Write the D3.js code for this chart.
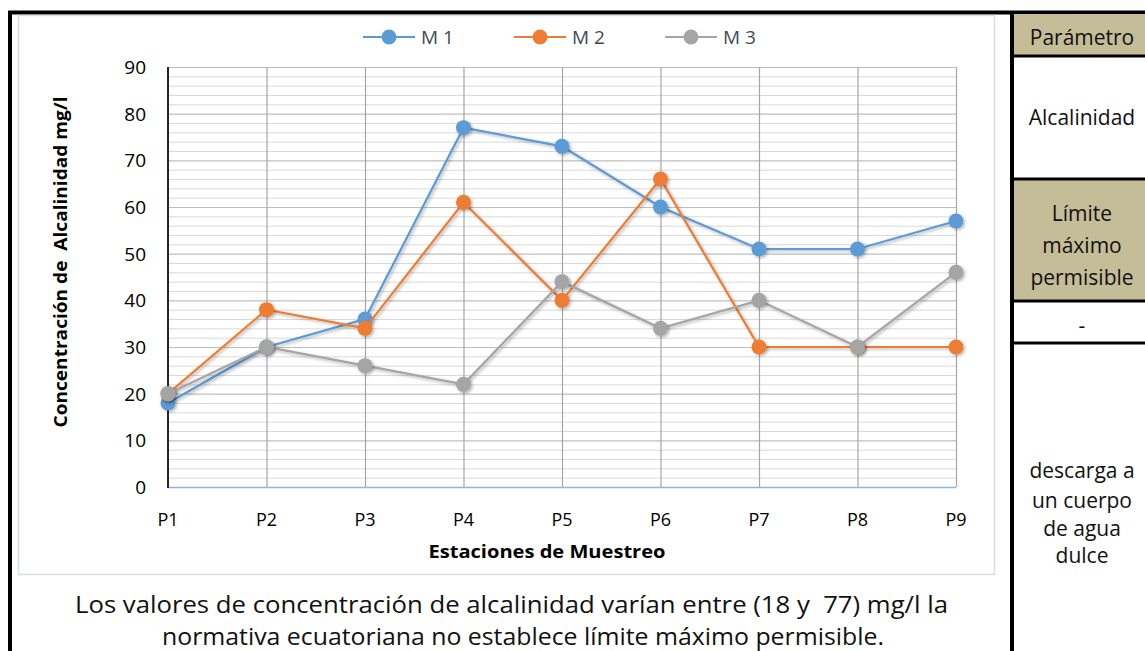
<!DOCTYPE html>
<html>
<head>
<meta charset="utf-8">
<script src="https://cdn.jsdelivr.net/npm/d3@7"></script>
<style>
  body { margin: 0; background: #fff; }
  svg { display: block; font-family: "Open Sans", Lato, sans-serif; }
</style>
</head>
<body>
<div id="chart"></div>
<script>
// Données
const estaciones = ["P1", "P2", "P3", "P4", "P5", "P6", "P7", "P8", "P9"];
const m1 = [18, 30, 36, 77, 73, 60, 51, 51, 57];
const m2 = [20, 38, 34, 61, 40, 66, 30, 30, 30];
const m3 = [20, 30, 26, 22, 44, 34, 40, 30, 46];
const nombresSeries = ["M 1", "M 2", "M 3"];
const yTicks = [0, 10, 20, 30, 40, 50, 60, 70, 80, 90];
const filasTabla = [
  { lineas: ["Parámetro"], tan: true },
  { lineas: ["Alcalinidad"], tan: false },
  { lineas: ["Límite", "máximo", "permisible"], tan: true },
  { lineas: ["-"], tan: false },
  { lineas: ["descarga a", "un cuerpo", "de agua", "dulce"], tan: false }
];
const textoPie = [
  "Los valores de concentración de alcalinidad varían entre (18 y  77) mg/l la",
  "normativa ecuatoriana no establece límite máximo permisible."
];

const series = [m1, m2, m3];
const colores = ["#5b9bd5", "#ed7d31", "#a5a5a5"];

const width = 1145, height = 651;
const svg = d3.select("#chart").append("svg")
  .attr("width", width)
  .attr("height", height);

// Ombre des marqueurs
const defs = svg.append("defs");
const f = defs.append("filter").attr("id", "ombre")
  .attr("x", "-50%").attr("y", "-50%").attr("width", "200%").attr("height", "200%");
f.append("feDropShadow").attr("dx", 1.5).attr("dy", 1.5).attr("stdDeviation", 1.5)
  .attr("flood-color", "#000").attr("flood-opacity", 0.3);

// Cadre noir extérieur
svg.append("rect").attr("x", 10).attr("y", 12.5).attr("width", 1200).attr("height", 700)
  .attr("fill", "none").attr("stroke", "#000").attr("stroke-width", 4);

// Cadre du graphique
svg.append("rect").attr("x", 18.5).attr("y", 15.5).attr("width", 976).attr("height", 559)
  .attr("fill", "#fff").attr("stroke", "#d9dee6").attr("stroke-width", 1.5);

// Échelles
const x = d3.scalePoint().domain(estaciones).range([168, 956]);
const y = d3.scaleLinear().domain([0, 90]).range([487, 67]);

const plot = svg.append("g");

// Quadrillage secondaire
plot.append("g")
  .selectAll("line")
  .data(d3.range(0, 91, 2).filter(v => v % 10 !== 0))
  .enter().append("line")
  .attr("x1", 168).attr("x2", 956)
  .attr("y1", d => y(d) + 0.5).attr("y2", d => y(d) + 0.5)
  .attr("stroke", "#d9d9d9").attr("stroke-width", 1);

// Quadrillage principal
plot.append("g")
  .selectAll("line")
  .data(yTicks.slice(1))
  .enter().append("line")
  .attr("x1", 168).attr("x2", 956)
  .attr("y1", d => y(d) + 0.5).attr("y2", d => y(d) + 0.5)
  .attr("stroke", "#bfbfbf").attr("stroke-width", 1.2);

// Lignes verticales
plot.append("g")
  .selectAll("line")
  .data(estaciones.slice(1))
  .enter().append("line")
  .attr("x1", d => x(d) + 0.5).attr("x2", d => x(d) + 0.5)
  .attr("y1", y(90)).attr("y2", y(0))
  .attr("stroke", "#a6a6a6").attr("stroke-width", 1.2);

// Axes
plot.append("line").attr("x1", 168).attr("x2", 956).attr("y1", y(0) + 0.5).attr("y2", y(0) + 0.5)
  .attr("stroke", "#8eb4e3").attr("stroke-width", 1.5);
plot.append("line").attr("x1", 168).attr("x2", 168).attr("y1", y(90)).attr("y2", y(0) + 1)
  .attr("stroke", "#262626").attr("stroke-width", 2);

// Étiquettes des axes
svg.append("g").selectAll("text")
  .data(yTicks).enter().append("text")
  .attr("x", 146).attr("y", d => y(d) + 7)
  .attr("text-anchor", "end")
  .attr("font-size", 19).attr("fill", "#000")
  .text(d => d);

svg.append("g").selectAll("text")
  .data(estaciones).enter().append("text")
  .attr("x", d => x(d)).attr("y", 526)
  .attr("text-anchor", "middle")
  .attr("font-size", 18).attr("fill", "#000")
  .text(d => d);

svg.append("text")
  .attr("x", 547).attr("y", 558)
  .attr("text-anchor", "middle")
  .attr("font-size", 18).attr("font-weight", "bold")
  .attr("textLength", 237).attr("lengthAdjust", "spacingAndGlyphs")
  .text("Estaciones de Muestreo");

svg.append("text")
  .attr("transform", "translate(67,262) rotate(-90)")
  .attr("text-anchor", "middle")
  .attr("font-size", 18).attr("font-weight", "bold")
  .attr("textLength", 331).attr("lengthAdjust", "spacingAndGlyphs")
  .style("white-space", "pre")
  .text("Concentración de  Alcalinidad mg/l");

// Séries
const line = d3.line().x((d, i) => x(estaciones[i])).y(d => y(d));
series.forEach((s, k) => {
  const g = svg.append("g");
  g.append("path").datum(s)
    .attr("d", line)
    .attr("fill", "none")
    .attr("stroke", colores[k])
    .attr("stroke-width", 2.2)
    .attr("filter", "url(#ombre)");
  g.selectAll("circle").data(s).enter().append("circle")
    .attr("cx", (d, i) => x(estaciones[i]))
    .attr("cy", d => y(d))
    .attr("r", 7.5)
    .attr("fill", colores[k])
    .attr("filter", "url(#ombre)");
});

// Légende
const legX = [363, 514, 665];
const leg = svg.append("g");
nombresSeries.forEach((n, k) => {
  leg.append("line").attr("x1", legX[k]).attr("x2", legX[k] + 52)
    .attr("y1", 37).attr("y2", 37)
    .attr("stroke", colores[k]).attr("stroke-width", 1.8);
  leg.append("circle").attr("cx", legX[k] + 26).attr("cy", 37).attr("r", 7.5)
    .attr("fill", colores[k]);
  leg.append("text").attr("x", legX[k] + 58).attr("y", 44)
    .attr("font-size", 19).attr("fill", "#404a5a")
    .text(n);
});

// Texte sous le graphique
svg.append("text")
  .attr("x", 75).attr("y", 613)
  .attr("font-size", 23).attr("fill", "#111")
  .attr("textLength", 873).attr("lengthAdjust", "spacingAndGlyphs")
  .style("white-space", "pre")
  .text(textoPie[0]);
svg.append("text")
  .attr("x", 162).attr("y", 645)
  .attr("font-size", 23).attr("fill", "#111")
  .attr("textLength", 722).attr("lengthAdjust", "spacingAndGlyphs")
  .text(textoPie[1]);

// Tableau à droite
const bornes = [14, 56, 179, 301, 343, 700];
const tabX = 1012, tabW = 200, centreCol = 1082;
const tab = svg.append("g");
filasTabla.forEach((r, i) => {
  const y0 = bornes[i], y1 = bornes[i + 1];
  tab.append("rect").attr("x", tabX).attr("y", y0).attr("width", tabW).attr("height", y1 - y0)
    .attr("fill", r.tan ? "#c4bd97" : "#fff");
});
bornes.slice(1, 5).forEach(b => {
  tab.append("line").attr("x1", tabX).attr("x2", tabX + tabW)
    .attr("y1", b).attr("y2", b).attr("stroke", "#000").attr("stroke-width", 3);
});
tab.append("line").attr("x1", tabX).attr("x2", tabX).attr("y1", 12).attr("y2", 651)
  .attr("stroke", "#000").attr("stroke-width", 4);

const yTexto = [
  [45],
  [125],
  [221, 253, 285],
  [333],
  [478, 508, 536, 563]
];
filasTabla.forEach((r, i) => {
  r.lineas.forEach((t, j) => {
    tab.append("text")
      .attr("x", centreCol).attr("y", yTexto[i][j])
      .attr("text-anchor", "middle")
      .attr("font-size", 21).attr("fill", "#111")
      .text(t);
  });
});
</script>
</body>
</html>
